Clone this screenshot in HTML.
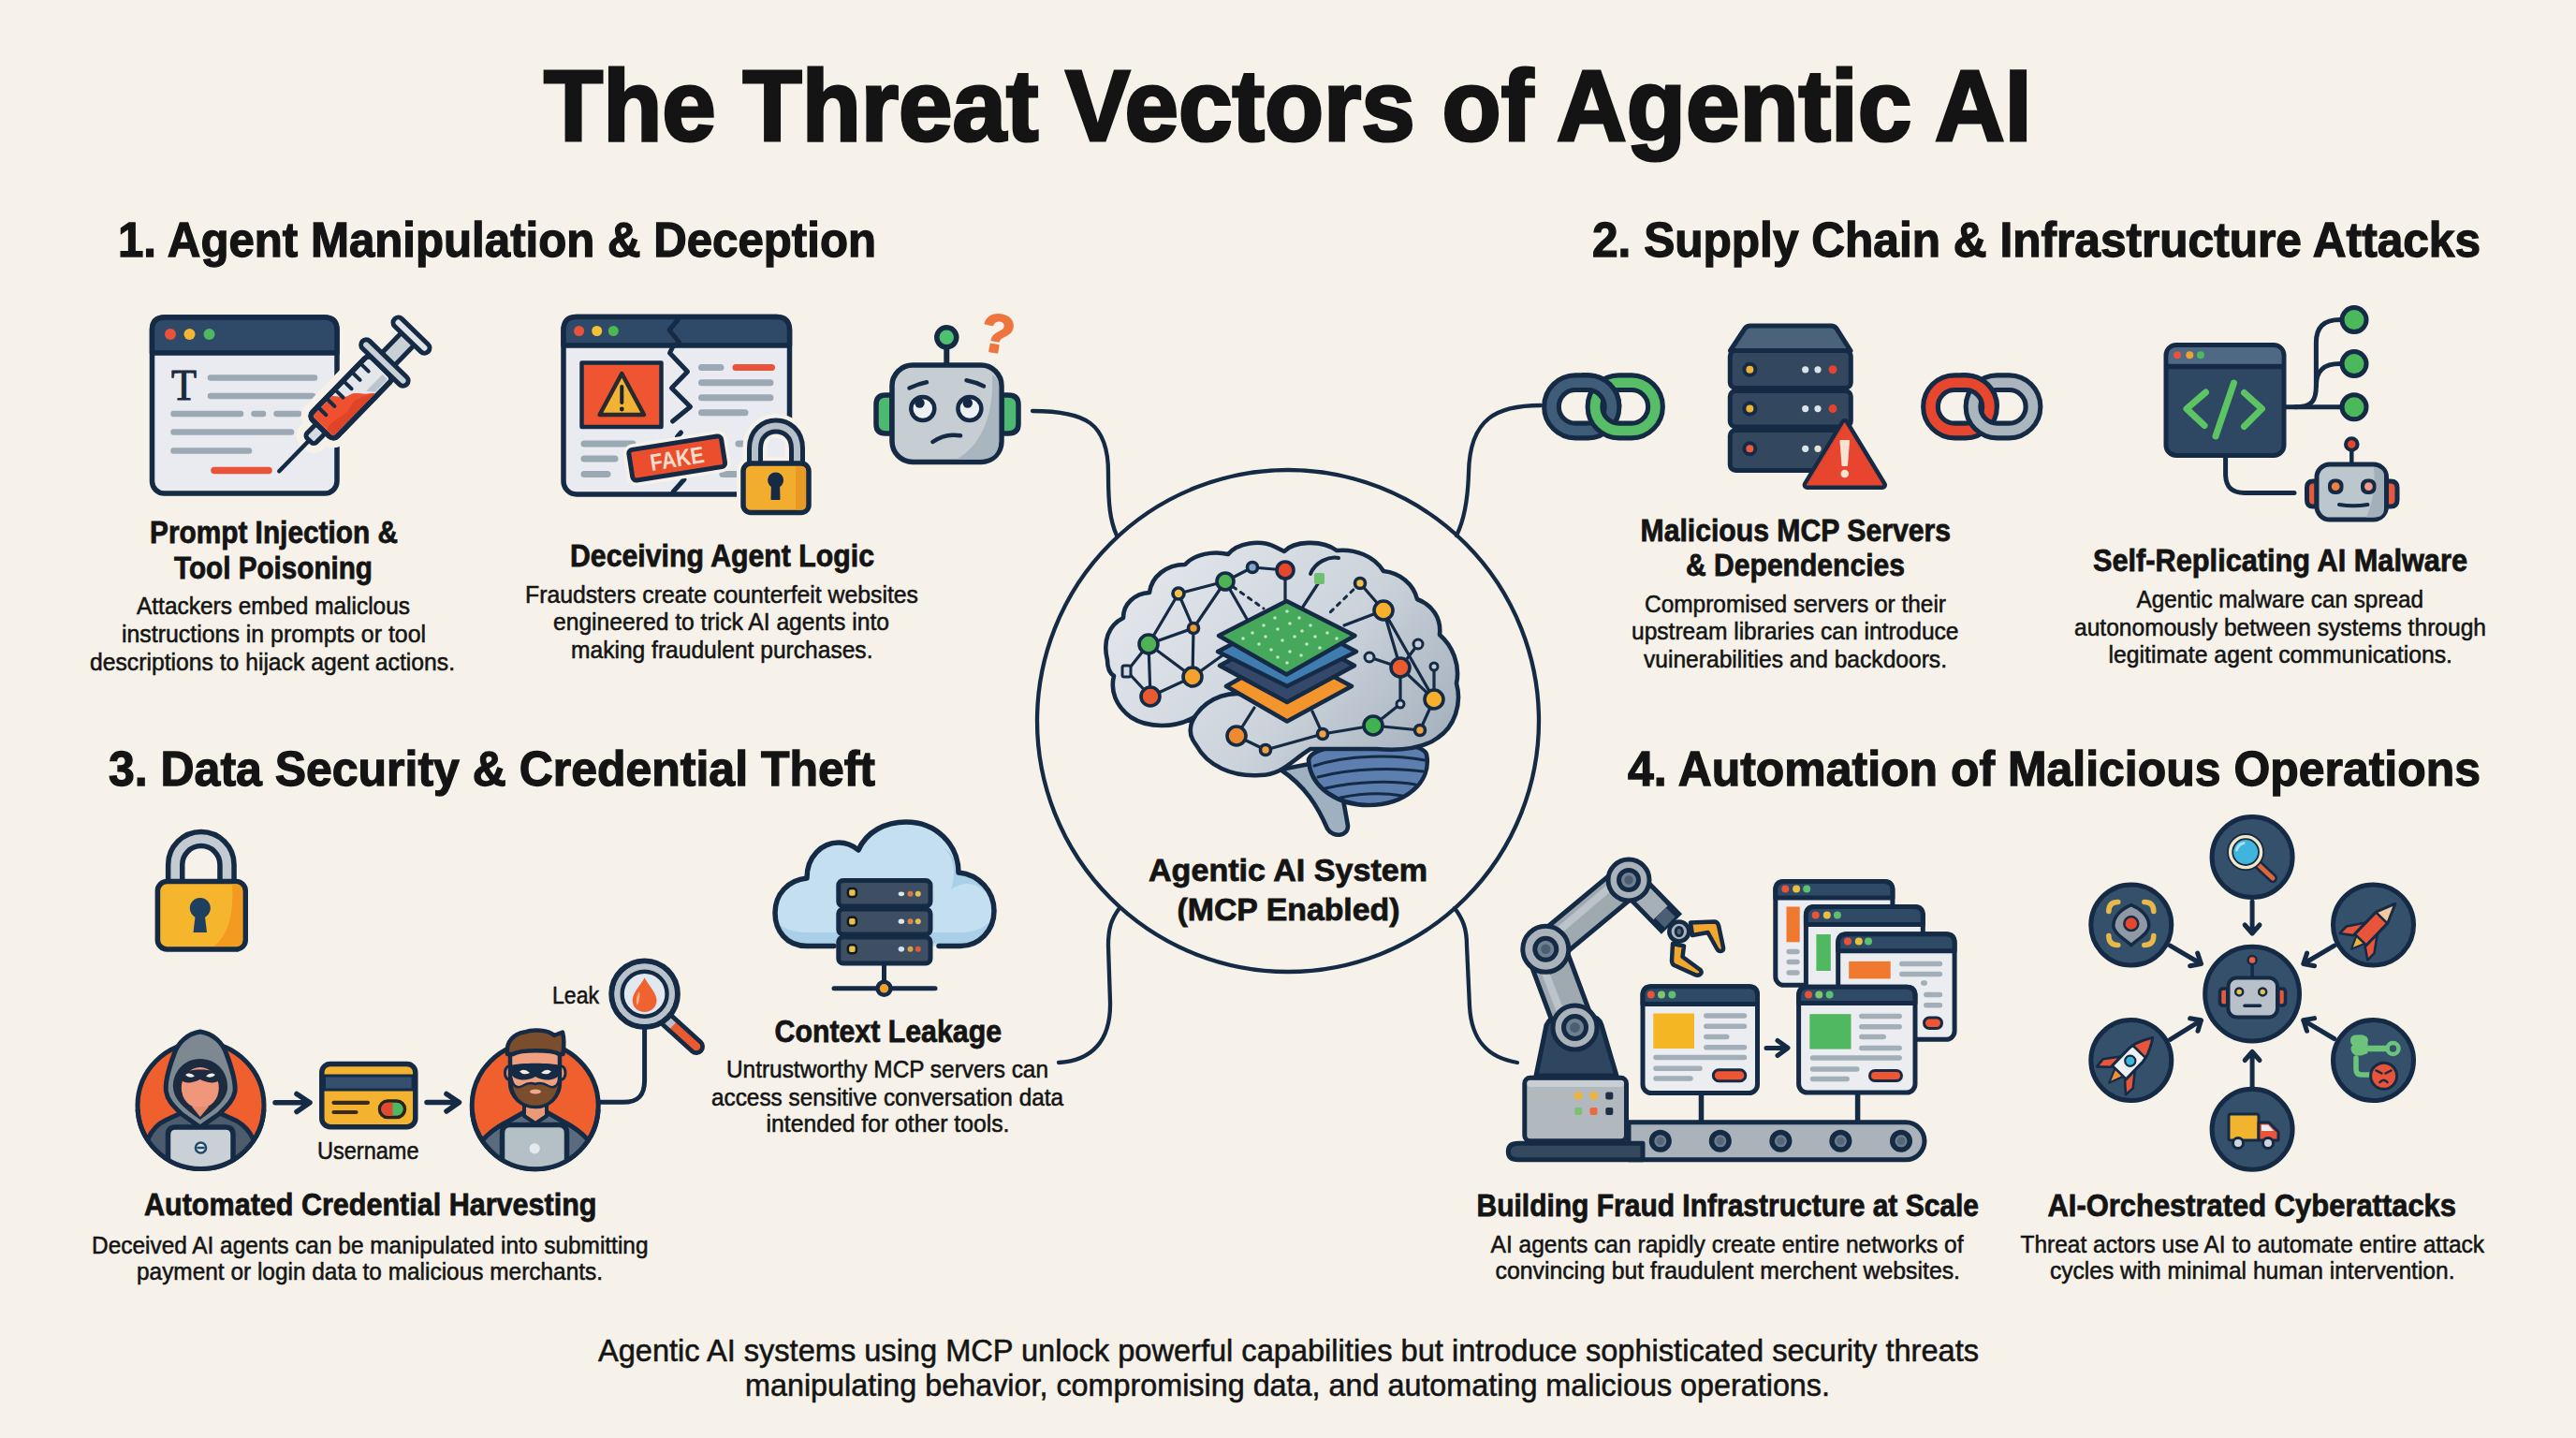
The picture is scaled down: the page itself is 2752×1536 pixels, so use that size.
<!DOCTYPE html>
<html lang="en"><head><meta charset="utf-8"><title>The Threat Vectors of Agentic AI</title>
<style>
html,body{margin:0;padding:0;background:#f6f2e9;}
body{width:2752px;height:1536px;overflow:hidden;}
svg{display:block;}
text{font-family:"Liberation Sans",sans-serif;fill:#141414;}
#labels text{stroke:#141414;stroke-linejoin:miter;stroke-miterlimit:2.5;paint-order:stroke;}
text.b{font-weight:700;}
text.n{font-weight:400;}
</style></head><body>
<svg width="2752" height="1536" viewBox="0 0 2752 1536">
<rect width="2752" height="1536" fill="#f6f2e9"/>
<!-- 10_center.svg -->
<g id="center" fill="none" stroke="#152a44" stroke-width="4.3" stroke-linecap="round" stroke-linejoin="round">
  <circle cx="1376" cy="770" r="268"/>
  <path d="M1103,439 C1160,439 1184,452 1184,505 C1184,540 1186,556 1193,572"/>
  <path d="M1646,433 C1600,433 1570,446 1569,505 C1568,540 1563,558 1556,572"/>
  <path d="M1196,970 C1187,982 1184,992 1184,1010 L1186,1070 C1187,1112 1166,1133 1131,1135"/>
  <path d="M1554,970 C1563,982 1567,992 1567,1010 L1570,1075 C1572,1112 1590,1130 1621,1135"/>
</g>
<defs><linearGradient id="brainG" gradientUnits="userSpaceOnUse" x1="1230" y1="600" x2="1520" y2="830"><stop offset="0" stop-color="#e2e6eb"/><stop offset="0.55" stop-color="#ccd3db"/><stop offset="1" stop-color="#a3b0bd"/></linearGradient></defs>
<g id="brain" stroke="#152a44" stroke-width="4.6" stroke-linecap="round" stroke-linejoin="round">
  <!-- brain stem -->
  <path d="M1368,822 C1395,840 1408,862 1418,885 C1424,895 1440,894 1440,882 L1432,838 L1420,812 Z" fill="#9fb0c0"/>
  <!-- cerebellum -->
  <path d="M1398,812 C1400,790 1520,786 1524,806 C1530,836 1500,860 1462,860 C1430,860 1400,842 1398,812 Z" fill="#5d7fb0"/>
  <g stroke-width="3" fill="none">
    <path d="M1404,818 C1440,806 1490,806 1522,812"/>
    <path d="M1408,830 C1445,820 1492,820 1520,824"/>
    <path d="M1416,842 C1450,834 1490,834 1512,838"/>
    <path d="M1432,852 C1456,847 1480,847 1498,850"/>
  </g>
  <!-- main brain -->
  <path fill="url(#brainG)" d="M1183,705 C1178,685 1184,668 1200,660 C1200,645 1212,634 1228,633 C1230,616 1246,603 1266,603 C1276,592 1296,588 1312,592 C1322,580 1346,576 1362,584 L1372,589 C1382,578 1412,576 1428,588 C1448,586 1468,594 1478,610 C1496,612 1510,624 1514,640 C1530,646 1540,660 1538,678 C1552,690 1560,710 1556,730 C1562,752 1554,776 1536,788 C1520,800 1494,802 1470,800 L1400,800 C1380,812 1370,828 1346,828 C1316,830 1290,818 1278,796 C1270,786 1270,776 1276,766 C1256,778 1226,778 1208,766 C1192,754 1186,738 1190,722 C1184,718 1183,712 1183,705 Z"/>
  <!-- temporal lobe crease -->
  <path fill="none" d="M1276,766 C1290,744 1316,736 1340,744"/>
  <path fill="none" stroke-width="4" d="M1400,613 C1405,600 1420,594 1430,596"/>
</g>
<g id="net" stroke="#152a44" stroke-width="3.2" stroke-linecap="round" fill="none">
  <path d="M1373,609 L1373,642 M1338,606 L1373,609 M1309,621 L1338,606 M1309,621 L1259,634 M1259,634 L1275,671 M1309,621 L1275,671 M1309,621 L1336,668 M1259,634 L1227,688 M1275,671 L1227,688 M1275,671 L1274,723 M1227,688 L1274,723 M1227,688 L1229,744 M1274,723 L1229,744 M1274,723 L1306,700 M1229,744 L1204,717 M1227,688 L1204,717"/>
  <path d="M1321,786 L1340,756 M1321,786 L1352,801 M1352,801 L1413,784 M1413,784 L1402,760 M1413,784 L1467,775 M1467,775 L1517,780 M1517,780 L1532,747 M1532,747 L1496,713 M1467,775 L1496,752 M1496,713 L1478,652 M1496,713 L1515,688 M1496,713 L1463,702 M1478,652 L1453,623 M1478,652 L1436,668 M1478,652 L1532,747 M1532,712 L1532,747 M1496,713 L1496,752"/>
  <path d="M1453,623 L1420,655 M1309,621 L1350,650" stroke-dasharray="4 6" stroke-width="3"/>
  <path d="M1409,622 L1392,648"/>
</g>
<g id="nodes" stroke="#152a44" stroke-width="3.6">
  <circle cx="1373" cy="609" r="9" fill="#e8472b"/>
  <circle cx="1309" cy="621" r="9" fill="#4fb255"/>
  <circle cx="1338" cy="606" r="5.5" fill="#7fa6c8"/>
  <circle cx="1259" cy="634" r="6" fill="#f3c04a"/>
  <circle cx="1275" cy="671" r="5.5" fill="#f09a32"/>
  <circle cx="1227" cy="688" r="10" fill="#4fb255"/>
  <circle cx="1274" cy="723" r="10" fill="#f4a12e"/>
  <circle cx="1229" cy="744" r="10" fill="#ea5a30"/>
  <rect x="1199" y="711" width="9" height="12" rx="2" fill="#d3d9e0" stroke-width="3"/>
  <circle cx="1321" cy="786" r="10" fill="#f08a30"/>
  <circle cx="1352" cy="801" r="5.5" fill="#f0a040"/>
  <circle cx="1413" cy="784" r="5.5" fill="#f0a040"/>
  <circle cx="1467" cy="775" r="10" fill="#3fb34f"/>
  <circle cx="1517" cy="780" r="5.5" fill="#f0a040"/>
  <circle cx="1532" cy="747" r="10" fill="#f6b02c"/>
  <circle cx="1496" cy="713" r="10" fill="#ea5a30"/>
  <circle cx="1478" cy="652" r="10" fill="#f6b02c"/>
  <circle cx="1453" cy="623" r="5.5" fill="#f3c04a"/>
  <circle cx="1515" cy="688" r="5" fill="#c5cdd6" stroke-width="3"/>
  <circle cx="1532" cy="712" r="4" fill="#c5cdd6" stroke-width="3"/>
  <circle cx="1463" cy="702" r="5" fill="#c5cdd6" stroke-width="3"/>
  <circle cx="1496" cy="752" r="4" fill="#c5cdd6" stroke-width="3"/>
  <rect x="1404" y="612" width="11" height="12" rx="2" fill="#6fc06f" stroke="none"/>
</g>
<g id="chip" stroke="#152a44" stroke-width="4.6" stroke-linejoin="round">
  <path d="M1310,733 L1375,696 L1444,733 L1375,770.5 Z" fill="#f4942c"/>
  <path d="M1303,711 L1375,672 L1447,711 L1375,750 Z" fill="#34496a"/>
  <path d="M1301,696 L1375,657 L1449,696 L1375,733 Z" fill="#3f7db0"/>
  <path d="M1302,679 L1374.5,642 L1447.5,679 L1374.5,720.5 Z" fill="#45a85a"/>
  <g fill="#bfe6c2" stroke="none">
    <circle cx="1350" cy="668" r="1.8"/><circle cx="1362" cy="660" r="1.8"/><circle cx="1375" cy="653" r="1.8"/><circle cx="1388" cy="660" r="1.8"/><circle cx="1400" cy="668" r="1.8"/>
    <circle cx="1338" cy="676" r="1.8"/><circle cx="1352" cy="680" r="1.8"/><circle cx="1365" cy="672" r="1.8"/><circle cx="1378" cy="666" r="1.8"/><circle cx="1391" cy="674" r="1.8"/><circle cx="1405" cy="680" r="1.8"/><circle cx="1418" cy="676" r="1.8"/>
    <circle cx="1345" cy="688" r="1.8"/><circle cx="1358" cy="694" r="1.8"/><circle cx="1370" cy="684" r="1.8"/><circle cx="1383" cy="680" r="1.8"/><circle cx="1396" cy="688" r="1.8"/><circle cx="1410" cy="692" r="1.8"/>
    <circle cx="1365" cy="702" r="1.8"/><circle cx="1378" cy="696" r="1.8"/><circle cx="1390" cy="700" r="1.8"/><circle cx="1375" cy="708" r="1.8"/><circle cx="1328" cy="682" r="1.8"/><circle cx="1428" cy="682" r="1.8"/>
  </g>
</g>

<!-- 20_sec1.svg -->
<g id="s1-browser" stroke-linecap="round" stroke-linejoin="round">
  <rect x="162.5" y="339" width="197.5" height="188" rx="13" fill="#e9ebf0" stroke="#152a44" stroke-width="5.5"/>
  <path d="M162.5,377 L162.5,352 Q162.5,339 175.5,339 L347,339 Q360,339 360,352 L360,377 Z" fill="#2e4a68" stroke="#152a44" stroke-width="5.5"/>
  <circle cx="182" cy="357" r="6" fill="#e8533a"/><circle cx="202.5" cy="357" r="6" fill="#f2b632"/><circle cx="223.5" cy="357" r="6" fill="#4cb860"/>
  <text x="183" y="426.7" font-size="46" textLength="27" lengthAdjust="spacingAndGlyphs" style="font-family:'Liberation Serif',serif;font-weight:400;fill:#1b2a3f;stroke:#1b2a3f;stroke-width:1">T</text>
  <g stroke="#9aa9b3" stroke-width="6.5" fill="none">
    <path d="M225,403.5 H336"/><path d="M225,423 H334"/><path d="M185.5,442 H257"/><path d="M271.5,442 H281"/><path d="M295.5,442 H319"/><path d="M185.5,461.5 H311"/><path d="M185.5,481.5 H266"/>
  </g>
  <path d="M229,502.5 H287" stroke="#e8533a" stroke-width="7.5" fill="none"/>
</g>
<g id="s1-syringe" transform="translate(298.3,503.3) rotate(-45.8)" stroke-linecap="round" stroke-linejoin="round">
  <!-- halo -->
  <g stroke="#f6f2e9" stroke-width="21" fill="#f6f2e9">
    <rect x="64" y="-18.5" width="92" height="37" rx="6"/>
    <rect x="156" y="-33" width="11" height="66" rx="5.5"/>
    <rect x="167" y="-9.5" width="30" height="19"/>
    <rect x="197" y="-25" width="11" height="50" rx="5.5"/>
    <rect x="46" y="-7" width="18" height="14" rx="4"/>
  </g>
  <path d="M0,0 H50" stroke="#152a44" stroke-width="4.5" fill="none"/>
  <rect x="46" y="-7" width="18" height="14" rx="4" fill="#d5dbe1" stroke="#152a44" stroke-width="5"/>
  <rect x="167" y="-9.5" width="30" height="19" fill="#c9d0d6" stroke="#152a44" stroke-width="5"/>
  <rect x="64" y="-18.5" width="92" height="37" rx="6" fill="#e3e7ea" stroke="#152a44" stroke-width="5.5"/>
  <path d="M67,-15.5 H97 C101,-12 104,-4 110,-3 C117,-2 120,6 124,9 C127,11 129,13 131,15.5 H67 Z" fill="#ee5030" stroke="none"/>
  <path d="M67,6 C80,0 92,12 104,6 C112,3 122,10 131,15.5 H67 Z" fill="#e04428" stroke="none"/>
  <path d="M126,7 L151,7 L151,14.5 L132,14.5 Z" fill="#bcc5cc" stroke="none"/>
  <rect x="64" y="-18.5" width="92" height="37" rx="6" fill="none" stroke="#152a44" stroke-width="5.5"/>
  <g stroke="#152a44" stroke-width="4" fill="none">
    <path d="M78,-17 V-6"/><path d="M91,-17 V-6"/><path d="M104,-17 V-6"/><path d="M117,-17 V-6"/><path d="M130,-17 V-6"/><path d="M143,-17 V-6"/>
  </g>
  <rect x="156" y="-33" width="11" height="66" rx="5.5" fill="#c9d0d6" stroke="#152a44" stroke-width="5"/>
  <rect x="197" y="-25" width="11" height="50" rx="5.5" fill="#dfe4e8" stroke="#152a44" stroke-width="5"/>
</g>
<g id="s1-fake" stroke-linecap="round" stroke-linejoin="round">
  <rect x="602" y="338.5" width="241.5" height="189.5" rx="14" fill="#e9ebf0" stroke="#152a44" stroke-width="5.5"/>
  <path d="M602,369 L602,352.5 Q602,338.5 616,338.5 L829.5,338.5 Q843.5,338.5 843.5,352.5 L843.5,369 Z" fill="#2e4a68" stroke="#152a44" stroke-width="5.5"/>
  <circle cx="618.6" cy="353.5" r="5.5" fill="#e8533a"/><circle cx="637.7" cy="353.5" r="5.5" fill="#f2c232"/><circle cx="655.3" cy="353.5" r="5.5" fill="#4cb850"/>
  <!-- crack -->
  <path d="M724,342 L715,352.5 L726,366 L719,370 L715.5,377 L724.5,386.5 L734.5,397 L717.5,414.5 L737.5,434.5 L718.5,450" fill="none" stroke="#152a44" stroke-width="5"/>
  <path d="M727.5,462 L723.5,466.5" fill="none" stroke="#152a44" stroke-width="5"/>
  <path d="M731,512 L719,525.5" fill="none" stroke="#152a44" stroke-width="5"/>
  <!-- alert box -->
  <rect x="621.5" y="387.5" width="85" height="68.5" fill="#ee5530" stroke="#152a44" stroke-width="4.5"/>
  <path d="M664.3,399 L688,443 L640.6,443 Z" fill="#f2b233" stroke="#2a2a2e" stroke-width="4.5"/>
  <path d="M664.3,413 V430" stroke="#1b2230" stroke-width="4" fill="none"/><circle cx="664.3" cy="437" r="2.4" fill="#1b2230"/>
  <g stroke="#9aa9b3" stroke-width="7" fill="none">
    <path d="M749.5,392.5 H770"/><path d="M749.5,408.7 H823"/><path d="M749.5,424.7 H823"/><path d="M749.5,440.7 H796"/>
    <path d="M624,474 H676"/><path d="M624,490 H657"/><path d="M624,506.4 H649"/>
    <path d="M789,474 H800"/><path d="M772,506.4 H790"/>
  </g>
  <path d="M786,392.5 H824.5" stroke="#e8533a" stroke-width="7" fill="none"/>
  <!-- FAKE label -->
  <g transform="translate(723.2,489.5) rotate(-9)">
    <rect x="-50" y="-16.5" width="100" height="33" rx="4" fill="#f6f2e9" stroke="#f6f2e9" stroke-width="12"/>
    <rect x="-50" y="-16.5" width="100" height="33" rx="4" fill="#ea4e2c" stroke="#152a44" stroke-width="5"/>
    <text x="-29" y="9" font-size="25" textLength="58" lengthAdjust="spacingAndGlyphs" style="font-weight:700;fill:#f8dccb">FAKE</text>
  </g>
  <!-- padlock -->
  <g>
    <path d="M806.5,496 V479 C806.5,447 851.5,447 851.5,479 V496" fill="none" stroke="#f6f2e9" stroke-width="26"/>
    <rect x="794" y="495" width="70" height="52.5" rx="8" fill="#f6f2e9" stroke="#f6f2e9" stroke-width="14"/>
    <path d="M806.5,498 V479 C806.5,447 851.5,447 851.5,479 V498" fill="none" stroke="#152a44" stroke-width="17"/>
    <path d="M806.5,498 V479 C806.5,447 851.5,447 851.5,479 V498" fill="none" stroke="#b7c0c8" stroke-width="7"/>
    <rect x="794" y="495" width="70" height="52.5" rx="8" fill="#f3ad2e" stroke="#152a44" stroke-width="5.5"/>
    <path d="M850,498 H856 Q861,498 861,503 V540 Q861,544.5 856,544.5 H850 Z" fill="#e89a24" stroke="none"/>
    <circle cx="828.6" cy="513" r="8.5" fill="#152a44"/>
    <path d="M825,515 L824.5,533 H832.5 L832,515 Z" fill="#152a44" stroke="#152a44" stroke-width="2"/>
  </g>
</g>
<g id="s1-robot" stroke-linecap="round" stroke-linejoin="round">
  <path d="M953,422 H946 Q936,422 936,432 V453 Q936,463 946,463 H953 Z" fill="#4db870" stroke="#152a44" stroke-width="5.5"/>
  <path d="M1070,422 H1077 Q1088,422 1088,432 V453 Q1088,463 1077,463 H1070 Z" fill="#4db870" stroke="#152a44" stroke-width="5.5"/>
  <path d="M1011.3,371 V390" stroke="#152a44" stroke-width="6" fill="none"/>
  <circle cx="1011.3" cy="360.3" r="10.5" fill="#4fc070" stroke="#152a44" stroke-width="5.5"/>
  <rect x="953" y="390" width="117" height="103.5" rx="22" fill="#c6ced4" stroke="#152a44" stroke-width="5.5"/>
  <path d="M1060,400 C1062,440 1050,475 1022,490.5 L1048,490.5 Q1067,490.5 1067.2,471 L1067.2,412 Q1067,404 1060,400 Z" fill="#a9b6c0" stroke="none"/>
  <circle cx="985.8" cy="436.5" r="12.5" fill="#eef1f3" stroke="#152a44" stroke-width="4.5"/>
  <circle cx="1035.9" cy="436.5" r="12.5" fill="#eef1f3" stroke="#152a44" stroke-width="4.5"/>
  <circle cx="982.5" cy="430.5" r="5.2" fill="#152a44"/><circle cx="1033.8" cy="430.5" r="5.2" fill="#152a44"/>
  <path d="M971.5,414.5 Q981,410 990,408.3" stroke="#152a44" stroke-width="4.5" fill="none"/>
  <path d="M1032.5,406.2 Q1042,408 1051,412.5" stroke="#152a44" stroke-width="4.5" fill="none"/>
  <path d="M996.5,472 Q1010,462.5 1026,465.3" stroke="#152a44" stroke-width="4.5" fill="none"/>
  <text transform="translate(1045,373) rotate(10)" x="0" y="0" font-size="58" style="font-weight:700;fill:#ee7440;stroke:#ee7440;stroke-width:2;stroke-linejoin:round">?</text>
</g>

<!-- 30_sec2.svg -->
<defs>
  <clipPath id="clipTopL"><rect x="1690" y="390" width="60" height="44"/></clipPath>
  <clipPath id="clipTopR"><rect x="2095" y="390" width="60" height="44"/></clipPath>
</defs>
<g id="s2-chainL" fill="none">
  <rect x="1657.5" y="408.7" width="64.5" height="51.3" rx="25.6" stroke="#152a44" stroke-width="20.8"/>
  <rect x="1657.5" y="408.7" width="64.5" height="51.3" rx="25.6" stroke="#3f5c78" stroke-width="10.6"/>
  <rect x="1704" y="408.7" width="64.5" height="51.3" rx="25.6" stroke="#152a44" stroke-width="20.8"/>
  <rect x="1704" y="408.7" width="64.5" height="51.3" rx="25.6" stroke="#57bd66" stroke-width="10.6"/>
  <g clip-path="url(#clipTopL)">
    <rect x="1657.5" y="408.7" width="64.5" height="51.3" rx="25.6" stroke="#152a44" stroke-width="20.8"/>
    <rect x="1657.5" y="408.7" width="64.5" height="51.3" rx="25.6" stroke="#3f5c78" stroke-width="10.6"/>
  </g>
</g>
<g id="s2-chainR" fill="none">
  <rect x="2062.5" y="408.7" width="63" height="51.3" rx="25.6" stroke="#152a44" stroke-width="20.8"/>
  <rect x="2062.5" y="408.7" width="63" height="51.3" rx="25.6" stroke="#e8472f" stroke-width="10.6"/>
  <rect x="2108" y="408.7" width="64" height="51.3" rx="25.6" stroke="#152a44" stroke-width="20.8"/>
  <rect x="2108" y="408.7" width="64" height="51.3" rx="25.6" stroke="#aab5bd" stroke-width="10.6"/>
  <g clip-path="url(#clipTopR)">
    <rect x="2062.5" y="408.7" width="63" height="51.3" rx="25.6" stroke="#152a44" stroke-width="20.8"/>
    <rect x="2062.5" y="408.7" width="63" height="51.3" rx="25.6" stroke="#e8472f" stroke-width="10.6"/>
  </g>
</g>
<g id="s2-server" stroke="#152a44" stroke-width="5" stroke-linejoin="round" stroke-linecap="round">
  <path d="M1870,348 H1956 Q1960,348 1962,351 L1977,374.5 H1848.5 L1864,351 Q1866,348 1870,348 Z" fill="#4b627b"/>
  <rect x="1848.3" y="374.5" width="129" height="40" rx="6" fill="#33475f"/>
  <rect x="1848.3" y="417.5" width="129" height="38.5" rx="6" fill="#33475f"/>
  <rect x="1848.3" y="459.5" width="129" height="43" rx="6" fill="#33475f"/>
  <circle cx="1869.4" cy="394.8" r="6" fill="#f1b232" stroke-width="4"/>
  <circle cx="1869.4" cy="436.6" r="6" fill="#f1b232" stroke-width="4"/>
  <circle cx="1869.4" cy="479.3" r="6" fill="#ee5a3c" stroke-width="4"/>
  <g stroke="none">
    <circle cx="1928.7" cy="394.8" r="3.6" fill="#d9e3ea"/><circle cx="1942" cy="394.8" r="3.6" fill="#d9e3ea"/><circle cx="1958" cy="394.8" r="4.5" fill="#e4432f"/>
    <circle cx="1928.7" cy="436.6" r="3.6" fill="#d9e3ea"/><circle cx="1942" cy="436.6" r="3.6" fill="#d9e3ea"/><circle cx="1958" cy="436.6" r="4.5" fill="#e4432f"/>
    <circle cx="1928.7" cy="479.3" r="3.6" fill="#d9e3ea"/><circle cx="1942" cy="479.3" r="3.6" fill="#e6e2cf"/>
  </g>
  <path d="M1970.8,452 L2011,518 H1930.6 Z" fill="#e8452f" stroke="#152a44" stroke-width="10"/>
  <path d="M1970.8,452 L2011,518 H1930.6 Z" fill="#e8452f" stroke="#e8452f" stroke-width="1"/>
  <path d="M1966.5,471 H1975 L1973,497 H1968.5 Z" fill="#f7e3d3" stroke="#f7e3d3" stroke-width="2"/>
  <circle cx="1970.8" cy="506" r="4.3" fill="#f7e3d3" stroke="none"/>
</g>
<g id="s2-code" stroke="#152a44" stroke-width="5" stroke-linejoin="round" stroke-linecap="round">
  <g fill="none">
    <path d="M2442,434.8 H2501"/>
    <path d="M2452,434.8 C2470,434.8 2474.4,428 2474.4,412 V366 C2474.4,350 2482,341.6 2500,341.6"/>
    <path d="M2474.4,412 C2474.4,396 2482,388.6 2500,388.6"/>
    <path d="M2377.6,489 V506 C2377.6,520 2384,526.4 2398,526.4 H2451"/>
  </g>
  <circle cx="2515" cy="341.6" r="13" fill="#4cb85c"/><circle cx="2515" cy="388.6" r="13" fill="#4cb85c"/><circle cx="2515" cy="434.8" r="13" fill="#4cb85c"/>
  <rect x="2314" y="368.5" width="126" height="118" rx="11" fill="#2e4763"/>
  <path d="M2316.5,389 V380 Q2316.5,371 2326,371 H2428 Q2437.5,371 2437.5,380 V389 Z" fill="#4f6883" stroke="none"/>
  <path d="M2315,391.5 H2439" stroke-width="5.5"/>
  <g stroke="none"><circle cx="2326.1" cy="379.2" r="4" fill="#e8533a"/><circle cx="2339.3" cy="379.2" r="4" fill="#f0a02e"/><circle cx="2350.9" cy="379.2" r="4" fill="#4cb860"/></g>
  <g fill="none" stroke="#5cc463" stroke-width="7">
    <path d="M2356.5,419 L2336,436.6 L2355,454.5"/><path d="M2386.5,409 L2367,466"/><path d="M2397.5,419.5 L2416.5,436.6 L2397.5,455.5"/>
  </g>
</g>
<g id="s2-robot" stroke="#152a44" stroke-width="5" stroke-linejoin="round" stroke-linecap="round">
  <path d="M2475,514 H2471 Q2464.5,514 2464.5,521 V534 Q2464.5,541 2471,541 H2475 Z" fill="#e45a3c"/>
  <path d="M2549.5,514 H2554 Q2561,514 2561,521 V534 Q2561,541 2554,541 H2549.5 Z" fill="#e45a3c"/>
  <path d="M2512.3,481 V496" fill="none" stroke-width="4.5"/>
  <circle cx="2512.3" cy="474.5" r="6.3" fill="#e8472f" stroke-width="4"/>
  <rect x="2475" y="496" width="74.5" height="59" rx="14" fill="#bcc6cd"/>
  <path d="M2536,499 C2538,520 2534,540 2528,552.5 H2537 Q2547,552.5 2547,543 V508 Q2547,500 2536,499 Z" fill="#a3b0ba" stroke="none"/>
  <rect x="2487" y="511.5" width="16.5" height="16.5" rx="7" fill="#152a44" stroke="none"/>
  <rect x="2522" y="511.5" width="16.5" height="16.5" rx="7" fill="#152a44" stroke="none"/>
  <circle cx="2495.2" cy="519.7" r="4.4" fill="#f0803c" stroke="none"/><circle cx="2530.4" cy="519.7" r="4.4" fill="#f09a8c" stroke="none"/>
  <path d="M2499,539 Q2514,541.5 2529.5,539" fill="none" stroke-width="4"/>
</g>

<!-- 40_sec3.svg -->
<defs>
  <clipPath id="clipH1"><circle cx="214.5" cy="1181" r="67.5"/></clipPath>
  <clipPath id="clipH2"><circle cx="571.7" cy="1181.2" r="67.5"/></clipPath>
  <clipPath id="clipLow1"><rect x="130" y="1185" width="170" height="80"/></clipPath>
  <clipPath id="clipLow2"><rect x="490" y="1185" width="170" height="80"/></clipPath>
  <clipPath id="clipPillL"><rect x="400" y="1170" width="19.5" height="30"/></clipPath>
</defs>
<g id="s3-lock" stroke-linecap="round" stroke-linejoin="round">
  <path d="M187.2,942 V923.7 A27.65,27.65 0 0 1 242.5,923.7 V942" fill="none" stroke="#152a44" stroke-width="20.6"/>
  <path d="M187.2,942 V923.7 A27.65,27.65 0 0 1 242.5,923.7 V942" fill="none" stroke="#c3cad1" stroke-width="9.6"/>
  <rect x="168.4" y="941.5" width="93.8" height="72.5" rx="10" fill="#f5b62e" stroke="#152a44" stroke-width="5.6"/>
  <path d="M248,944.5 C250,975 244,1000 228,1011 H252 Q259.3,1011 259.3,1004 V951.5 Q259.3,944.5 252,944.5 Z" fill="#f39a20"/>
  <circle cx="213.8" cy="970" r="11" fill="#1f3f5f"/>
  <path d="M209,975 L206.5,996 H221 L218.5,975 Z" fill="#1f3f5f"/>
</g>
<g id="s3-hacker1" stroke-linejoin="round" stroke-linecap="round">
  <circle cx="214.5" cy="1181" r="67.5" fill="#f0602f" stroke="#152a44" stroke-width="5"/>
  <g clip-path="url(#clipH1)">
    <path d="M150,1260 C152,1222 160,1204 178,1196 L200,1186 L228,1186 L250,1196 C268,1204 277,1222 279,1260 Z" fill="#4d5c6c" stroke="#152a44" stroke-width="5"/>
  </g>
  <!-- hood -->
  <path d="M213.8,1102 C200,1104 190,1114 186,1126 C180,1142 176,1156 177.5,1166 C179,1176 186,1182 194,1190 L213.8,1204 L234,1190 C242,1182 249,1176 251,1166 C252,1156 248,1142 242,1126 C238,1114 228,1104 213.8,1102 Z" fill="#7d8891" stroke="#152a44" stroke-width="5"/>
  <path d="M213.8,1131 C196,1131 184,1146 185,1162 C186,1176 200,1186 213.8,1196 C228,1186 242,1176 243,1162 C244,1146 232,1131 213.8,1131 Z" fill="#1d2b40"/>
  <ellipse cx="213.8" cy="1162" rx="20" ry="22" fill="#f0967a"/>
  <path d="M205,1182 L213.8,1193 L223,1182 Z" fill="#e88c6e"/>
  <path d="M193,1150 C193,1140 235,1140 235,1150 C235,1158 224,1158 213.8,1153 C204,1158 193,1158 193,1150 Z" fill="#1d2b40"/>
  <path d="M198,1148 Q203,1144.5 208,1149.5 Q202,1152.5 198,1148 Z" fill="#f2efe4"/>
  <path d="M230,1148 Q225,1144.5 220,1149.5 Q226,1152.5 230,1148 Z" fill="#f2efe4"/>
  <g clip-path="url(#clipH1)">
    <path d="M179.5,1260 V1212 Q179.5,1204 187.5,1204 H241 Q249,1204 249,1212 V1260 Z" fill="#c9d1d6" stroke="#152a44" stroke-width="5.5"/>
    <circle cx="214.5" cy="1226" r="5.6" fill="#dfe6ea" stroke="#1f4a6a" stroke-width="2.5"/>
    <path d="M211.5,1226 H217.5" stroke="#1f4a6a" stroke-width="2.5"/>
  </g>
  <circle cx="214.5" cy="1181" r="67.5" fill="none" stroke="#152a44" stroke-width="5" clip-path="url(#clipLow1)"/>
</g>
<g id="s3-arrows" fill="none" stroke="#152a44" stroke-width="5.5" stroke-linecap="round" stroke-linejoin="round">
  <path d="M294,1177.8 H330 M317,1168.5 L331,1177.8 L317,1187.5"/>
  <path d="M456,1177.5 H489 M477,1168.5 L490.5,1177.5 L477,1187"/>
</g>
<g id="s3-card" stroke-linejoin="round" stroke-linecap="round">
  <rect x="343.8" y="1136.5" width="100" height="67.2" rx="9" fill="#f3b230" stroke="#152a44" stroke-width="5.5"/>
  <rect x="346.5" y="1149" width="94.6" height="15" fill="#34506e" stroke="#152a44" stroke-width="3"/>
  <path d="M356.5,1177.8 H393" stroke="#3a2a1a" stroke-width="4.2" fill="none"/>
  <path d="M356.5,1188 H380.5" stroke="#3a2a1a" stroke-width="4.2" fill="none"/>
  <rect x="405.5" y="1176" width="27" height="17.6" rx="8.8" fill="#4cb860" stroke="#2a2418" stroke-width="3.5"/>
  <g clip-path="url(#clipPillL)"><rect x="407.2" y="1177.7" width="23.6" height="14.2" rx="7.1" fill="#e04a30"/></g>
</g>
<g id="s3-hacker2" stroke-linejoin="round" stroke-linecap="round">
  <path d="M641.6,1177.3 H666 C682,1177.3 688.6,1170 688.6,1154 V1098" fill="none" stroke="#152a44" stroke-width="5"/>
  <circle cx="571.7" cy="1181.2" r="67.5" fill="#f0602f" stroke="#152a44" stroke-width="5"/>
  <g clip-path="url(#clipH2)">
    <path d="M508,1262 L510,1226 C518,1212 530,1204 544,1197 L560,1188 L584,1188 L600,1197 C614,1204 626,1212 634,1226 L636,1262 Z" fill="#5a6b7d" stroke="#152a44" stroke-width="5"/>
    <path d="M560,1178 H584 V1192 L572,1200 L560,1192 Z" fill="#eb9a78" stroke="#152a44" stroke-width="4"/>
  </g>
  <!-- ears -->
  <ellipse cx="543.5" cy="1146" rx="4" ry="7" fill="#f0a07e" stroke="#152a44" stroke-width="3"/>
  <ellipse cx="600" cy="1146" rx="4" ry="7" fill="#f0a07e" stroke="#152a44" stroke-width="3"/>
  <!-- face -->
  <path d="M545,1120 H598 V1156 C598,1172 586,1182 571.7,1182 C558,1182 545,1172 545,1156 Z" fill="#f0a07e" stroke="#152a44" stroke-width="4.5"/>
  <!-- beard -->
  <path d="M546.5,1152 C548,1160 552,1163 558,1160 C563,1157 567,1156 571.7,1158 C577,1156 581,1157 586,1160 C592,1163 596,1160 597.5,1152 C598.5,1172 586,1182 571.7,1182 C558,1182 545,1172 546.5,1152 Z" fill="#7a4e2d" stroke="#152a44" stroke-width="2.5"/>
  <ellipse cx="572" cy="1166" rx="6" ry="2.6" fill="#f0a890"/>
  <!-- mask -->
  <path d="M546,1138 C554,1135 590,1135 598,1138 V1148 C592,1155 580,1155 572,1150 C564,1155 552,1155 546,1148 Z" fill="#152a44"/>
  <path d="M555,1144.5 Q560,1140.5 566,1146 Q559,1149 555,1144.5 Z" fill="#f2efe4"/>
  <path d="M589,1144.5 Q584,1140.5 578,1146 Q585,1149 589,1144.5 Z" fill="#f2efe4"/>
  <!-- hair -->
  <path d="M542,1126 C540,1112 550,1104 560,1102.5 C570,1099 586,1100 592,1106 L601,1102.5 C603,1110 602.5,1118 601.5,1126 L597,1126 C590,1121 556,1121 548,1126 Z" fill="#7a4e2d" stroke="#152a44" stroke-width="4.5"/>
  <g clip-path="url(#clipH2)">
    <path d="M536.5,1262 V1210 Q536.5,1201.5 545,1201.5 H597 Q605.5,1201.5 605.5,1210 V1262 Z" fill="#b5bfc6" stroke="#152a44" stroke-width="5.5"/>
    <circle cx="571.2" cy="1226.8" r="5.6" fill="#e4eaee"/>
  </g>
  <circle cx="571.7" cy="1181.2" r="67.5" fill="none" stroke="#152a44" stroke-width="5" clip-path="url(#clipLow2)"/>
</g>
<g id="s3-magnifier" stroke-linejoin="round" stroke-linecap="round">
  <path d="M712,1089 L744,1118" stroke="#152a44" stroke-width="18" fill="none"/>
  <path d="M712,1089 L744,1118" stroke="#ea5a30" stroke-width="8.5" fill="none"/>
  <path d="M711,1088 L719,1095.5" stroke="#b8c2ca" stroke-width="8.5" fill="none" stroke-linecap="butt"/>
  <circle cx="688.6" cy="1061.7" r="35.2" fill="#dfe6ee" stroke="#152a44" stroke-width="6.2"/>
  <circle cx="688.6" cy="1061.7" r="29.2" fill="none" stroke="#b8c2ca" stroke-width="6.2"/>
  <circle cx="688.6" cy="1061.7" r="24" fill="#e2e8f0" stroke="#152a44" stroke-width="4.4"/>
  <path d="M688.6,1044.5 C694,1054 701.5,1061 701.5,1068.5 C701.5,1076 695.5,1081 688.6,1081 C681.5,1081 675.7,1076 675.7,1068.5 C675.7,1061 683,1054 688.6,1044.5 Z" fill="#f0622f"/>
  <path d="M683,1059 C680,1064 679,1069 680.5,1074 C683,1071 684,1064 683,1059 Z" fill="#f9b088"/>
</g>
<g id="s3-cloud" stroke-linejoin="round" stroke-linecap="round">
  <path d="M891,1010.5 H862 C840,1010.5 828,994 828,975 C828,955 842,940 862,938 C862,915 878,900 896,900 C904,900 911,903 917,908 C926,888 946,878 968,878 C1000,878 1024,902 1024,932 C1046,934 1062,952 1062,973 C1062,994 1046,1010.5 1026,1010.5 H1003 Z" fill="#c3dff0"/>
  <path d="M831,985 C836,992 848,996 862,996 H1026 C1042,996 1054,990 1059,982 C1056,998 1044,1008 1026,1008 H862 C844,1008 834,998 831,985 Z" fill="#a9d0e7"/>
  <path d="M1008,905 C1022,918 1020,940 1016,950 C1030,940 1044,944 1052,952 C1046,940 1036,934 1024,932 C1023,922 1018,912 1008,905 Z" fill="#a9d0e7"/>
  <path d="M891,1010.5 H862 C840,1010.5 828,994 828,975 C828,955 842,940 862,938 C862,915 878,900 896,900 C904,900 911,903 917,908 C926,888 946,878 968,878 C1000,878 1024,902 1024,932 C1046,934 1062,952 1062,973 C1062,994 1046,1010.5 1026,1010.5 H1003" fill="none" stroke="#152a44" stroke-width="5.5"/>
  <g stroke="#152a44" stroke-width="5">
    <rect x="895.8" y="940.5" width="98.2" height="27.5" rx="5" fill="#3e4f63"/>
    <rect x="895.8" y="971" width="98.2" height="27" rx="5" fill="#3e4f63"/>
    <rect x="895.8" y="1001" width="98.2" height="28" rx="5" fill="#3e4f63"/>
    <path d="M944.5,1030 V1047" fill="none"/>
    <path d="M891,1055.8 H999" fill="none"/>
    <circle cx="944.5" cy="1055.8" r="7" fill="#f2a12e" stroke-width="4.5"/>
  </g>
  <g stroke="#14181f" stroke-width="2.5">
    <rect x="905.9" y="949.1" width="9" height="9" rx="3" fill="#e8c24a"/><rect x="905.9" y="979.7" width="9" height="9" rx="3" fill="#e8c24a"/><rect x="905.9" y="1009.2" width="9" height="9" rx="3" fill="#e8c24a"/>
  </g>
  <g>
    <ellipse cx="962.9" cy="954.8" rx="3.2" ry="2.4" fill="#dfe7ee"/><circle cx="972.5" cy="954.8" r="3" fill="#d9774a"/><circle cx="980.8" cy="954.8" r="3" fill="#e2c052"/>
    <ellipse cx="962.9" cy="984.2" rx="3.2" ry="2.6" fill="#dfe7ee"/><circle cx="972.5" cy="984.2" r="3" fill="#d9874a"/><circle cx="980.8" cy="984.2" r="3" fill="#e2c052"/>
    <ellipse cx="962.9" cy="1013.7" rx="3.2" ry="2.8" fill="#cfe2f4"/><circle cx="972.5" cy="1013.7" r="3" fill="#d9a04a"/><circle cx="980.8" cy="1013.7" r="3" fill="#e0583c"/>
  </g>
</g>

<!-- 50_sec4.svg -->
<g id="s4-factory" stroke-linejoin="round" stroke-linecap="round">
<rect x="1896.8" y="941.4" width="125.1" height="110.9" rx="9" fill="#ebedf1" stroke="#152a44" stroke-width="5"/>
<path d="M1896.8,959.0 V950.4 Q1896.8,941.4 1905.8,941.4 H2012.9 Q2021.9,941.4 2021.9,950.4 V959.0 Z" fill="#2f4a66" stroke="#152a44" stroke-width="5"/>
<circle cx="1907.3" cy="949.6" r="4" fill="#e8533a"/>
<circle cx="1919.1" cy="949.6" r="4" fill="#e8c040"/>
<circle cx="1930.2" cy="949.6" r="4" fill="#5cc070"/>
<rect x="1908.5" y="968.5" width="14.2" height="37.8" fill="#f0782f"/>
<path d="M1911.2,1016.5 H1920.0 M1911.2,1027.6 H1920.0 M1911.2,1039.0 H1920.0" stroke="#a3afb8" stroke-width="5.5" fill="none" stroke-linecap="round"/>
<rect x="1929.4" y="968.6" width="124.9" height="113.9" rx="9" fill="#ebedf1" stroke="#152a44" stroke-width="5"/>
<path d="M1929.4,987.4 V977.6 Q1929.4,968.6 1938.4,968.6 H2045.3 Q2054.3,968.6 2054.3,977.6 V987.4 Z" fill="#2f4a66" stroke="#152a44" stroke-width="5"/>
<circle cx="1939.7" cy="977.5" r="4" fill="#e8533a"/>
<circle cx="1951.8" cy="977.5" r="4" fill="#e8c040"/>
<circle cx="1962.9" cy="977.5" r="4" fill="#5cc070"/>
<rect x="1940.4" y="998" width="15.4" height="39" fill="#4fb860"/>
<rect x="1963.7" y="997.7" width="124.4" height="112.6" rx="9" fill="#ebedf1" stroke="#152a44" stroke-width="5"/>
<path d="M1963.7,1015.8 V1006.7 Q1963.7,997.7 1972.7,997.7 H2079.1 Q2088.1,997.7 2088.1,1006.7 V1015.8 Z" fill="#2f4a66" stroke="#152a44" stroke-width="5"/>
<circle cx="1974.0" cy="1005.6" r="4" fill="#e8533a"/>
<circle cx="1985.8" cy="1005.6" r="4" fill="#e8c040"/>
<circle cx="1996.0" cy="1005.6" r="4" fill="#5cc070"/>
<rect x="1975.2" y="1026.9" width="44.5" height="18.5" fill="#f0782f"/>
<path d="M2031.8,1029.5 H2072.4 M2031.8,1040.6 H2072.4 M2054.8,1050.0 H2056.2 M2057.8,1062.6 H2072.4 M2057.8,1073.7 H2072.4" stroke="#a3afb8" stroke-width="5.5" fill="none" stroke-linecap="round"/>
<rect x="2055.5" y="1087" width="19" height="11.5" rx="5.7" fill="#ee5530" stroke="#152a44" stroke-width="3"/>
<path d="M1740,1198.8 H2036 A20,20 0 0 1 2036,1238.8 H1740 Z" fill="#aab3ba" stroke="#152a44" stroke-width="5"/>
<circle cx="1773.8" cy="1218.8" r="9.3" fill="#6d7d8c" stroke="#152a44" stroke-width="5.5"/>
<circle cx="1773.8" cy="1218.8" r="4.2" fill="#55677a"/>
<circle cx="1837.8" cy="1218.8" r="9.3" fill="#6d7d8c" stroke="#152a44" stroke-width="5.5"/>
<circle cx="1837.8" cy="1218.8" r="4.2" fill="#55677a"/>
<circle cx="1902.4" cy="1218.8" r="9.3" fill="#6d7d8c" stroke="#152a44" stroke-width="5.5"/>
<circle cx="1902.4" cy="1218.8" r="4.2" fill="#55677a"/>
<circle cx="1966.4" cy="1218.8" r="9.3" fill="#6d7d8c" stroke="#152a44" stroke-width="5.5"/>
<circle cx="1966.4" cy="1218.8" r="4.2" fill="#55677a"/>
<circle cx="2031" cy="1218.8" r="9.3" fill="#6d7d8c" stroke="#152a44" stroke-width="5.5"/>
<circle cx="2031" cy="1218.8" r="4.2" fill="#55677a"/>
<path d="M1817.5,1170 V1197 M1984.6,1169.5 V1197" stroke="#152a44" stroke-width="5.5" fill="none"/>
<rect x="1755.0" y="1053.8" width="122.5" height="113.7" rx="9" fill="#ebedf1" stroke="#152a44" stroke-width="5"/>
<path d="M1755.0,1072.5 V1062.8 Q1755.0,1053.8 1764.0,1053.8 H1868.5 Q1877.5,1053.8 1877.5,1062.8 V1072.5 Z" fill="#2f4a66" stroke="#152a44" stroke-width="5"/>
<circle cx="1763.8" cy="1062.5" r="4" fill="#e8533a"/>
<circle cx="1775.0" cy="1062.5" r="4" fill="#7cc86a"/>
<circle cx="1786.3" cy="1062.5" r="4" fill="#5cc070"/>
<rect x="1766.3" y="1082.5" width="43.7" height="37.5" fill="#f5b623"/>
<path d="M1822.8,1085.0 H1863.5 M1822.8,1096.3 H1863.5 M1822.8,1107.5 H1844.8 M1822.8,1118.8 H1863.5 M1769.0,1129.5 H1863.5 M1769.0,1141.3 H1816.0 M1769.0,1152.0 H1806.0" stroke="#a3afb8" stroke-width="5.5" fill="none" stroke-linecap="round"/>
<rect x="1830.3" y="1142.8" width="34.5" height="12" rx="6" fill="#ee5530" stroke="#152a44" stroke-width="3"/>
<path d="M1887,1119.4 H1909 M1899,1111.5 L1910,1119.4 L1899,1127.5" stroke="#152a44" stroke-width="5" fill="none"/>
<rect x="1921.6" y="1054.2" width="124.4" height="112.8" rx="9" fill="#ebedf1" stroke="#152a44" stroke-width="5"/>
<path d="M1921.6,1071.4 V1063.2 Q1921.6,1054.2 1930.6,1054.2 H2037.0 Q2046.0,1054.2 2046.0,1063.2 V1071.4 Z" fill="#2f4a66" stroke="#152a44" stroke-width="5"/>
<circle cx="1932.1" cy="1062.6" r="4" fill="#e8533a"/>
<circle cx="1943.3" cy="1062.6" r="4" fill="#7cc86a"/>
<circle cx="1954.6" cy="1062.6" r="4" fill="#5cc070"/>
<rect x="1933.3" y="1083.2" width="44.2" height="37.4" fill="#4fb860"/>
<path d="M1988.8,1085.6 H2029.2 M1988.8,1096.7 H2029.2 M1988.8,1107.6 H2012.2 M1988.8,1119.4 H2029.2 M1936.5,1130.0 H2029.2 M1936.5,1141.9 H1983.8 M1936.5,1152.5 H1973.2" stroke="#a3afb8" stroke-width="5.5" fill="none" stroke-linecap="round"/>
<rect x="1997.5" y="1143.5" width="34" height="11" rx="5.5" fill="#ee5530" stroke="#152a44" stroke-width="3"/>
<path d="M1622,1221.3 H1755 V1238.8 H1622 Q1611.3,1238.8 1611.3,1230 Q1611.3,1221.3 1622,1221.3 Z" fill="#34495e" stroke="#152a44" stroke-width="5"/>
<path d="M1641,1149 L1652,1095 Q1656,1086 1666,1086 H1700 Q1708,1086 1711,1095 L1727,1149 Z" fill="#2f4660" stroke="#152a44" stroke-width="5"/>
<rect x="1628.8" y="1151.3" width="108.7" height="67.5" rx="6" fill="#b1b9bf" stroke="#152a44" stroke-width="5"/>
<rect x="1631.5" y="1154" width="103.3" height="7" rx="3" fill="#c9cfd4"/>
<rect x="1682.3" y="1166.5" width="8" height="8" rx="2" fill="#f2b23a"/>
<rect x="1698.5" y="1166.5" width="8" height="8" rx="2" fill="#f2b23a"/>
<rect x="1715.3" y="1166.5" width="8" height="8" rx="2" fill="#1f2e44"/>
<rect x="1682.3" y="1183.0" width="8" height="8" rx="2" fill="#7cc070"/>
<rect x="1698.5" y="1183.0" width="8" height="8" rx="2" fill="#ee6a3c"/>
<rect x="1715.3" y="1183.0" width="8" height="8" rx="2" fill="#1f2e44"/>
<path d="M1806,985.5 L1831,984.5 Q1835,984.5 1836,988.5 L1841,1012 Q1841.5,1016 1838,1016 Q1835.5,1016 1834,1013 L1824.5,996 L1808,999 Z" fill="#f3a62e" stroke="#152a44" stroke-width="4.5"/>
<path d="M1787,1008 L1799,1010.5 L1797.5,1022 L1816.5,1036 Q1819,1039 1816,1041 Q1813.5,1042.5 1810.5,1041 L1788.5,1031 Q1786,1029.5 1786,1026 Z" fill="#f3a62e" stroke="#152a44" stroke-width="4.5"/>
<path d="M1740,940 L1786,987" stroke="#152a44" stroke-width="31" fill="none" stroke-linecap="butt"/>
<path d="M1740,940 L1774,975" stroke="#a7b0b7" stroke-width="21" fill="none" stroke-linecap="butt"/>
<path d="M1774,975 L1784,985" stroke="#4a5e74" stroke-width="16" fill="none" stroke-linecap="butt"/>
<path d="M1651.3,1013.8 L1740,940" stroke="#152a44" stroke-width="39" fill="none" stroke-linecap="round"/>
<path d="M1651.3,1013.8 L1740,940" stroke="#9fa9b0" stroke-width="29" fill="none" stroke-linecap="round"/>
<path d="M1655,1003 L1736,934" stroke="#bcc4c9" stroke-width="8" fill="none" stroke-linecap="butt"/>
<path d="M1682.5,1097.5 L1651.3,1013.8" stroke="#152a44" stroke-width="46" fill="none" stroke-linecap="round"/>
<path d="M1682.5,1097.5 L1651.3,1013.8" stroke="#9fa9b0" stroke-width="36" fill="none" stroke-linecap="round"/>
<path d="M1672,1094 L1643,1018" stroke="#bcc4c9" stroke-width="8" fill="none" stroke-linecap="butt"/>
<circle cx="1793.8" cy="995" r="10.5" fill="#aab3ba" stroke="#152a44" stroke-width="4.5"/>
<ellipse cx="1793.8" cy="995" rx="3.6" ry="4.6" fill="#55677a" stroke="#152a44" stroke-width="3"/>
<circle cx="1740" cy="940" r="22" fill="#aab3ba" stroke="#152a44" stroke-width="5"/>
<circle cx="1740" cy="940" r="10.5" fill="#6f8090" stroke="#152a44" stroke-width="5"/>
<circle cx="1740" cy="940" r="4.7" fill="#4a5e74"/>
<circle cx="1651.3" cy="1013.8" r="24.5" fill="#aab3ba" stroke="#152a44" stroke-width="5"/>
<circle cx="1651.3" cy="1013.8" r="11.5" fill="#6f8090" stroke="#152a44" stroke-width="5"/>
<circle cx="1651.3" cy="1013.8" r="5.2" fill="#4a5e74"/>
<circle cx="1682.5" cy="1097.5" r="23.5" fill="#aab3ba" stroke="#152a44" stroke-width="5"/>
<circle cx="1682.5" cy="1097.5" r="12" fill="#6f8090" stroke="#152a44" stroke-width="5"/>
<circle cx="1682.5" cy="1097.5" r="5.4" fill="#4a5e74"/>
</g>
<g id="s4-network" stroke-linejoin="round" stroke-linecap="round">
<path d="M2406.1,963.0 L2406.1,997.0 M2398.2,988.0 L2406.1,997.0 L2414.0,988.0" stroke="#152a44" stroke-width="5" fill="none"/>
<path d="M2406.1,1162.0 L2406.1,1123.5 M2414.0,1132.5 L2406.1,1123.5 L2398.2,1132.5" stroke="#152a44" stroke-width="5" fill="none"/>
<path d="M2318.5,1010.2 L2351.5,1029.5 M2339.7,1031.8 L2351.5,1029.5 L2347.7,1018.1" stroke="#152a44" stroke-width="5" fill="none"/>
<path d="M2493.7,1010.2 L2460.8,1029.5 M2464.6,1018.1 L2460.8,1029.5 L2472.6,1031.8" stroke="#152a44" stroke-width="5" fill="none"/>
<path d="M2318.5,1110.3 L2351.5,1089.8 M2348.0,1101.3 L2351.5,1089.8 L2339.7,1087.8" stroke="#152a44" stroke-width="5" fill="none"/>
<path d="M2493.7,1109.5 L2460.8,1089.8 M2472.6,1087.6 L2460.8,1089.8 L2464.5,1101.2" stroke="#152a44" stroke-width="5" fill="none"/>
<circle cx="2406.1" cy="915.6" r="43" fill="#35506b" stroke="#152a44" stroke-width="5"/>
<circle cx="2276.8" cy="988" r="43" fill="#35506b" stroke="#152a44" stroke-width="5"/>
<circle cx="2535.5" cy="988" r="43" fill="#35506b" stroke="#152a44" stroke-width="5"/>
<circle cx="2276.8" cy="1132.6" r="43" fill="#35506b" stroke="#152a44" stroke-width="5"/>
<circle cx="2535.5" cy="1132.6" r="43" fill="#35506b" stroke="#152a44" stroke-width="5"/>
<circle cx="2406.1" cy="1206.3" r="43" fill="#35506b" stroke="#152a44" stroke-width="5"/>
<circle cx="2406.1" cy="1061.7" r="50.4" fill="#35506b" stroke="#152a44" stroke-width="5"/>
<path d="M2379.7,1056 H2375 Q2371.5,1056 2371.5,1060 V1070 Q2371.5,1074 2375,1074 H2379.7 Z M2433.9,1056 H2438 Q2441.5,1056 2441.5,1060 V1070 Q2441.5,1074 2438,1074 H2433.9 Z" fill="#e45a3c" stroke="#152a44" stroke-width="3.5"/>
<path d="M2406.1,1031 V1044" stroke="#152a44" stroke-width="3.5" fill="none"/>
<circle cx="2406.1" cy="1025.5" r="4.5" fill="#ee6040" stroke="#152a44" stroke-width="2.5"/>
<rect x="2380.5" y="1044.5" width="52.5" height="42" rx="9" fill="#b8c1c9" stroke="#152a44" stroke-width="4"/>
<circle cx="2392.2" cy="1059.4" r="4" fill="#e8c050" stroke="#152a44" stroke-width="2.5"/><circle cx="2417.2" cy="1059.4" r="4" fill="#e8c050" stroke="#152a44" stroke-width="2.5"/>
<path d="M2398,1074.2 H2414.5" stroke="#152a44" stroke-width="3.5" fill="none"/>
<path d="M2412,923 L2428,938" stroke="#152a44" stroke-width="10" fill="none"/><path d="M2413,924 L2428,938" stroke="#e0663c" stroke-width="5" fill="none"/>
<circle cx="2399.1" cy="910.1" r="16.5" fill="#3fb4dc" stroke="#152a44" stroke-width="7"/><circle cx="2399.1" cy="910.1" r="16.5" fill="none" stroke="#f3e6c8" stroke-width="3.4"/>
<path d="M2389.5,908 A10,10 0 0 1 2397,900.5" stroke="#a6e0f2" stroke-width="3" fill="none"/>
<path d="M2276.8,966.6 C2286.8,970.6 2295.8,978.6 2295.8,988.6 C2295.8,996.6 2284.8,1002.6 2276.8,1009.6 C2268.8,1002.6 2257.8,996.6 2257.8,988.6 C2257.8,978.6 2266.8,970.6 2276.8,966.6 Z" fill="#8e99a4" stroke="#152a44" stroke-width="3.5"/>
<circle cx="2276.8" cy="986.6" r="7.5" fill="#e8472f" stroke="#152a44" stroke-width="2.5"/>
<path d="M2262.8,963.6 Q2252.8,963.6 2252.8,973.6" stroke="#e8b84a" stroke-width="5.5" fill="none"/>
<path d="M2290.8,963.6 Q2300.8,963.6 2300.8,973.6" stroke="#e8b84a" stroke-width="5.5" fill="none"/>
<path d="M2262.8,1009.6 Q2252.8,1009.6 2252.8,999.6" stroke="#e8b84a" stroke-width="5.5" fill="none"/>
<path d="M2290.8,1009.6 Q2300.8,1009.6 2300.8,999.6" stroke="#e8b84a" stroke-width="5.5" fill="none"/>
<g transform="translate(2536,989) rotate(-46) scale(0.86)">
<path d="M-26,-10 L-36,-24 L-24,-24 L-4,-10 Z M-26,10 L-36,24 L-24,24 L-4,10 Z" fill="#e8553a" stroke="#152a44" stroke-width="3"/>
<path d="M-24,-10 H14 L38,0 L14,10 H-24 Z" fill="#e8553a" stroke="#152a44" stroke-width="3.5"/>
<path d="M14,-10 L38,0 L14,10 Z" fill="#f3c9a0" stroke="#152a44" stroke-width="3"/>
<path d="M-24,-7 L-40,0 L-24,7 Z" fill="#f2b23a" stroke="#152a44" stroke-width="2.5"/>
</g>
<g transform="translate(2277,1132) rotate(-46) scale(0.86)">
<path d="M-24,-12 L-36,-25 L-24,-26 L-6,-12 Z M-24,12 L-36,25 L-24,26 L-6,12 Z" fill="#e8553a" stroke="#152a44" stroke-width="3"/>
<path d="M-22,-12 H8 C20,-11 30,-5 38,0 C30,5 20,11 8,12 H-22 Z" fill="#eef0f3" stroke="#152a44" stroke-width="3.5"/>
<path d="M14,-11 C22,-9 30,-5 38,0 C30,5 22,9 14,11 Z" fill="#e8553a" stroke="#152a44" stroke-width="3"/>
<circle cx="-2" cy="0" r="6.5" fill="#3fb4dc" stroke="#152a44" stroke-width="2.5"/>
<path d="M-22,-7 L-40,0 L-22,7 Z" fill="#f0903a" stroke="#152a44" stroke-width="2.5"/>
</g>
<path d="M2524,1120 H2551" stroke="#6cc47a" stroke-width="6.5" fill="none"/>
<circle cx="2556.5" cy="1120" r="6" fill="#35506b" stroke="#6cc47a" stroke-width="4.5"/>
<path d="M2518,1107 C2511,1106 2511,1114 2516,1116 C2510,1120 2514,1127 2522,1126 L2528,1124 V1113 C2530,1108 2524,1106 2518,1107 Z" fill="#6cc47a" stroke="#6cc47a" stroke-width="3"/>
<path d="M2517,1130 V1142 Q2517,1148 2523,1148 H2532" stroke="#6cc47a" stroke-width="5.5" fill="none"/>
<circle cx="2546.6" cy="1149.3" r="14" fill="#e8533a" stroke="#152a44" stroke-width="3"/>
<path d="M2538.5,1143.5 L2544.5,1146.5 M2554.5,1143.5 L2548.5,1146.5 M2542.5,1156 Q2546.6,1151.5 2550.5,1156" stroke="#152a44" stroke-width="2.5" fill="none"/>
<rect x="2381" y="1190" width="32" height="28" rx="2" fill="#f2b42e" stroke="#152a44" stroke-width="3"/>
<path d="M2413,1199 H2424 L2434,1209 V1218 H2413 Z" fill="#e8553a" stroke="#152a44" stroke-width="3"/>
<path d="M2416,1201.5 H2423 L2429,1208 H2416 Z" fill="#e8eef2"/>
<circle cx="2391" cy="1221" r="5.5" fill="#cfd6dc" stroke="#152a44" stroke-width="3"/><circle cx="2423" cy="1221" r="5.5" fill="#cfd6dc" stroke="#152a44" stroke-width="3"/>
</g>
<g id="labels">
<text class="b" stroke-width="3.2" x="581" y="150.2" font-size="108" textLength="1589.5" lengthAdjust="spacingAndGlyphs">The Threat Vectors of Agentic AI</text>
<text class="b" stroke-width="1.3" x="126" y="274" font-size="52" textLength="810" lengthAdjust="spacingAndGlyphs">1. Agent Manipulation &amp; Deception</text>
<text class="b" stroke-width="1.3" x="1701" y="274" font-size="52" textLength="949" lengthAdjust="spacingAndGlyphs">2. Supply Chain &amp; Infrastructure Attacks</text>
<text class="b" stroke-width="1.3" x="116" y="838.5" font-size="52" textLength="819" lengthAdjust="spacingAndGlyphs">3. Data Security &amp; Credential Theft</text>
<text class="b" stroke-width="1.3" x="1739" y="838.5" font-size="52" textLength="911" lengthAdjust="spacingAndGlyphs">4. Automation of Malicious Operations</text>
<text class="b" stroke-width="0.8" x="160" y="580" font-size="33.5" textLength="265" lengthAdjust="spacingAndGlyphs">Prompt Injection &amp;</text>
<text class="b" stroke-width="0.8" x="186" y="617.5" font-size="33.5" textLength="212" lengthAdjust="spacingAndGlyphs">Tool Poisoning</text>
<text class="n" stroke-width="0.55" x="146" y="656" font-size="26" textLength="292" lengthAdjust="spacingAndGlyphs">Attackers embed maliclous</text>
<text class="n" stroke-width="0.55" x="130" y="686" font-size="26" textLength="325" lengthAdjust="spacingAndGlyphs">instructions in prompts or tool</text>
<text class="n" stroke-width="0.55" x="96" y="716" font-size="26" textLength="390" lengthAdjust="spacingAndGlyphs">descriptions to hijack agent actions.</text>
<text class="b" stroke-width="0.8" x="609" y="605" font-size="33.5" textLength="325" lengthAdjust="spacingAndGlyphs">Deceiving Agent Logic</text>
<text class="n" stroke-width="0.55" x="561" y="644" font-size="26" textLength="420" lengthAdjust="spacingAndGlyphs">Fraudsters create counterfeit websites</text>
<text class="n" stroke-width="0.55" x="591" y="673" font-size="26" textLength="359" lengthAdjust="spacingAndGlyphs">engineered to trick AI agents into</text>
<text class="n" stroke-width="0.55" x="610" y="702.5" font-size="26" textLength="322.5" lengthAdjust="spacingAndGlyphs">making fraudulent purchases.</text>
<text class="b" stroke-width="0.8" x="1752.5" y="577.5" font-size="33.5" textLength="331.5" lengthAdjust="spacingAndGlyphs">Malicious MCP Servers</text>
<text class="b" stroke-width="0.8" x="1801" y="615" font-size="33.5" textLength="234" lengthAdjust="spacingAndGlyphs">&amp; Dependencies</text>
<text class="n" stroke-width="0.55" x="1757" y="654" font-size="26" textLength="322" lengthAdjust="spacingAndGlyphs">Compromised servers or their</text>
<text class="n" stroke-width="0.55" x="1743" y="683" font-size="26" textLength="349.5" lengthAdjust="spacingAndGlyphs">upstream libraries can introduce</text>
<text class="n" stroke-width="0.55" x="1756" y="712.5" font-size="26" textLength="324" lengthAdjust="spacingAndGlyphs">vuinerabilities and backdoors.</text>
<text class="b" stroke-width="0.8" x="2236" y="610" font-size="33.5" textLength="400" lengthAdjust="spacingAndGlyphs">Self-Replicating AI Malware</text>
<text class="n" stroke-width="0.55" x="2282.5" y="649" font-size="26" textLength="306.5" lengthAdjust="spacingAndGlyphs">Agentic malware can spread</text>
<text class="n" stroke-width="0.55" x="2216" y="678.5" font-size="26" textLength="440" lengthAdjust="spacingAndGlyphs">autonomously between systems through</text>
<text class="n" stroke-width="0.55" x="2252.5" y="707.5" font-size="26" textLength="367.5" lengthAdjust="spacingAndGlyphs">legitimate agent communications.</text>
<text class="n" stroke-width="0.55" x="590" y="1071.5" font-size="26" textLength="50" lengthAdjust="spacingAndGlyphs">Leak</text>
<text class="n" stroke-width="0.55" x="339" y="1237.5" font-size="26" textLength="108.5" lengthAdjust="spacingAndGlyphs">Username</text>
<text class="b" stroke-width="0.8" x="154" y="1297.5" font-size="33.5" textLength="483.5" lengthAdjust="spacingAndGlyphs">Automated Credential Harvesting</text>
<text class="n" stroke-width="0.55" x="98" y="1338.5" font-size="26" textLength="594.5" lengthAdjust="spacingAndGlyphs">Deceived AI agents can be manipulated into submitting</text>
<text class="n" stroke-width="0.55" x="146" y="1366.5" font-size="26" textLength="498" lengthAdjust="spacingAndGlyphs">payment or login data to malicious merchants.</text>
<text class="b" stroke-width="0.8" x="827.5" y="1112.5" font-size="33.5" textLength="242.5" lengthAdjust="spacingAndGlyphs">Context Leakage</text>
<text class="n" stroke-width="0.55" x="776" y="1151" font-size="26" textLength="344" lengthAdjust="spacingAndGlyphs">Untrustworthy MCP servers can</text>
<text class="n" stroke-width="0.55" x="760" y="1180.5" font-size="26" textLength="376" lengthAdjust="spacingAndGlyphs">access sensitive conversation data</text>
<text class="n" stroke-width="0.55" x="818.5" y="1209" font-size="26" textLength="260.0" lengthAdjust="spacingAndGlyphs">intended for other tools.</text>
<text class="b" stroke-width="0.8" x="1577.5" y="1298.5" font-size="33.5" textLength="536.5" lengthAdjust="spacingAndGlyphs">Building Fraud Infrastructure at Scale</text>
<text class="n" stroke-width="0.55" x="1592.5" y="1337.5" font-size="26" textLength="505.0" lengthAdjust="spacingAndGlyphs">AI agents can rapidly create entire networks of</text>
<text class="n" stroke-width="0.55" x="1597.5" y="1366" font-size="26" textLength="496.5" lengthAdjust="spacingAndGlyphs">convincing but fraudulent merchent websites.</text>
<text class="b" stroke-width="0.8" x="2187.5" y="1298.5" font-size="33.5" textLength="436.5" lengthAdjust="spacingAndGlyphs">AI-Orchestrated Cyberattacks</text>
<text class="n" stroke-width="0.55" x="2158.5" y="1337.5" font-size="26" textLength="495.5" lengthAdjust="spacingAndGlyphs">Threat actors use AI to automate entire attack</text>
<text class="n" stroke-width="0.55" x="2190" y="1366" font-size="26" textLength="432.5" lengthAdjust="spacingAndGlyphs">cycles with minimal human intervention.</text>
<text class="b" stroke-width="0.8" x="1227" y="941" font-size="34" textLength="298" lengthAdjust="spacingAndGlyphs">Agentic AI System</text>
<text class="b" stroke-width="0.8" x="1257.5" y="983" font-size="34" textLength="238.0" lengthAdjust="spacingAndGlyphs">(MCP Enabled)</text>
<text class="n" stroke-width="0.55" x="639" y="1453.5" font-size="33" textLength="1475" lengthAdjust="spacingAndGlyphs">Agentic AI systems using MCP unlock powerful capabilities but introduce sophisticated security threats</text>
<text class="n" stroke-width="0.55" x="796" y="1491" font-size="33" textLength="1159" lengthAdjust="spacingAndGlyphs">manipulating behavior, compromising data, and automating malicious operations.</text>
</g>
</svg>
</body></html>
